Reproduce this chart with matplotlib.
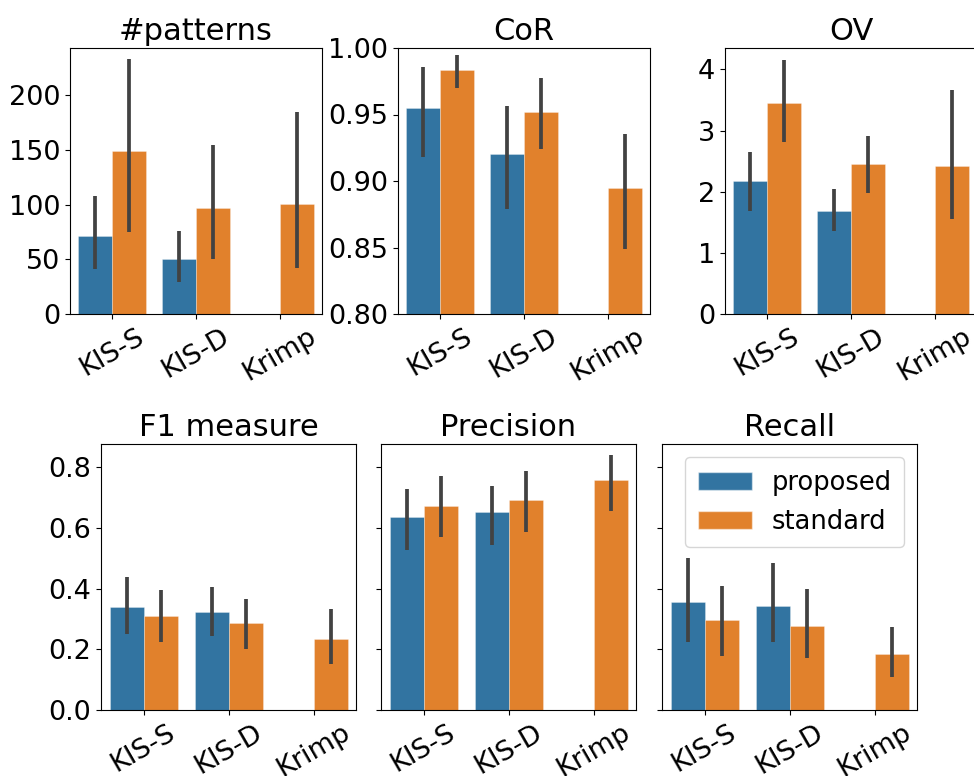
import numpy as np
import matplotlib
matplotlib.use("Agg")
import matplotlib.pyplot as plt
from matplotlib.patches import Patch

categories = ["KIS-S", "KIS-D", "Krimp"]
series = ["proposed", "standard"]
colors = ["#3274a1", "#e1812c"]

# values: [proposed, standard] per category (NaN = missing)
patterns_mean = {"proposed": [71.5, 50.5, np.nan], "standard": [148.8, 97.0, 100.5]}
patterns_lo = {"proposed": [40.8, 29.5, np.nan], "standard": [74.6, 50.2, 42.0]}
patterns_hi = {"proposed": [107.8, 76.0, np.nan], "standard": [232.6, 154.6, 184.8]}

cor_mean = {"proposed": [0.955, 0.920, np.nan], "standard": [0.9834, 0.9516, 0.8948]}
cor_lo = {"proposed": [0.9177, 0.8793, np.nan], "standard": [0.9697, 0.9237, 0.8489]}
cor_hi = {"proposed": [0.9855, 0.9563, np.nan], "standard": [0.9947, 0.9777, 0.9355]}

ov_mean = {"proposed": [2.17, 1.68, np.nan], "standard": [3.45, 2.45, 2.42]}
ov_lo = {"proposed": [1.686, 1.35, np.nan], "standard": [2.82, 1.975, 1.55]}
ov_hi = {"proposed": [2.65, 2.05, np.nan], "standard": [4.16, 2.91, 3.66]}

f1_mean = {"proposed": [0.340, 0.323, np.nan], "standard": [0.308, 0.285, 0.234]}
f1_lo = {"proposed": [0.249, 0.244, np.nan], "standard": [0.223, 0.201, 0.151]}
f1_hi = {"proposed": [0.437, 0.406, np.nan], "standard": [0.395, 0.364, 0.331]}

prec_mean = {"proposed": [0.635, 0.651, np.nan], "standard": [0.672, 0.691, 0.756]}
prec_lo = {"proposed": [0.528, 0.542, np.nan], "standard": [0.571, 0.585, 0.656]}
prec_hi = {"proposed": [0.729, 0.737, np.nan], "standard": [0.770, 0.786, 0.840]}

rec_mean = {"proposed": [0.355, 0.342, np.nan], "standard": [0.295, 0.277, 0.184]}
rec_lo = {"proposed": [0.223, 0.223, np.nan], "standard": [0.177, 0.170, 0.108]}
rec_hi = {"proposed": [0.499, 0.483, np.nan], "standard": [0.409, 0.397, 0.274]}

W, H = 974, 776
fig = plt.figure(figsize=(W / 100, H / 100), dpi=100)

def ax_px(left, top, right, bottom):
    return fig.add_axes([left / W, 1 - bottom / H, (right - left) / W, (bottom - top) / H])

panels = [
    ("#patterns", patterns_mean, patterns_lo, patterns_hi, (70, 48, 322, 314), (0, 243), [0, 50, 100, 150, 200], None),
    ("CoR", cor_mean, cor_lo, cor_hi, (398, 48, 650, 314), (0.8, 1.0), [0.80, 0.85, 0.90, 0.95, 1.00], "{:.2f}"),
    ("OV", ov_mean, ov_lo, ov_hi, (725, 48, 977, 314), (0, 4.35), [0, 1, 2, 3, 4], None),
    ("F1 measure", f1_mean, f1_lo, f1_hi, (101, 444, 356, 710), (0, 0.876), [0.0, 0.2, 0.4, 0.6, 0.8], "{:.1f}"),
    ("Precision", prec_mean, prec_lo, prec_hi, (381, 444, 636, 710), (0, 0.876), [0.0, 0.2, 0.4, 0.6, 0.8], ""),
    ("Recall", rec_mean, rec_lo, rec_hi, (662, 444, 917, 710), (0, 0.876), [0.0, 0.2, 0.4, 0.6, 0.8], ""),
]

FS = 19.5
x = np.arange(len(categories))
for title, mean, lo, hi, box, ylim, yticks, fmt in panels:
    ax = ax_px(*box)
    for j, s in enumerate(series):
        off = -0.2 + 0.4 * j
        m = np.array(mean[s], dtype=float)
        ok = ~np.isnan(m)
        ax.bar(x[ok] + off, m[ok], width=0.4, color=colors[j], edgecolor="#ffffff80",
               linewidth=0.4, zorder=2)
        ax.vlines(x[ok] + off, np.array(lo[s])[ok], np.array(hi[s])[ok],
                  color="#424242", linewidth=2.7, zorder=3)
    ax.set_xlim(-0.5, 2.5)
    ax.set_ylim(*ylim)
    ax.set_yticks(yticks)
    if fmt == "":
        ax.set_yticklabels([])
    elif fmt is not None:
        ax.set_yticklabels([fmt.format(v) for v in yticks])
    ax.set_xticks(x)
    ax.set_xticklabels(categories, rotation=30, ha="center")
    ax.tick_params(labelsize=FS)
    ax.set_title(title, fontsize=22)
    if title == "Recall":
        handles = [Patch(facecolor=colors[k], edgecolor="#ffffff80", label=series[k]) for k in range(2)]
        ax.legend(handles=handles, loc="upper right", fontsize=18.5, handlelength=2.1,
                  handleheight=0.7, handletextpad=0.75, labelspacing=0.5,
                  borderpad=0.5, borderaxespad=0.5)

fig.savefig("out.png", dpi=100)
